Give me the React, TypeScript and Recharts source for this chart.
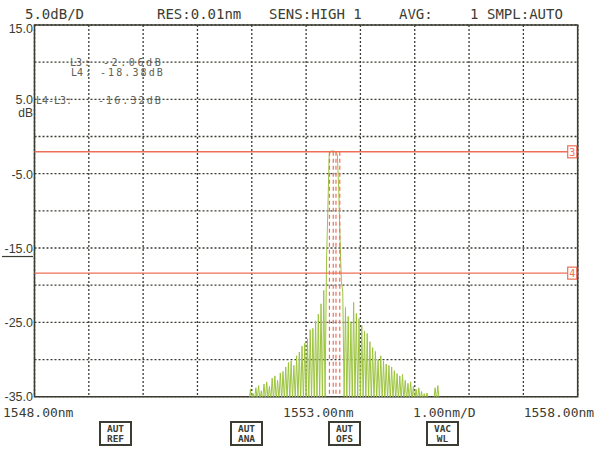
import React from 'react'
import {
  LineChart,
  Line,
  XAxis,
  YAxis,
  CartesianGrid,
  ReferenceLine,
  ReferenceArea,
} from 'recharts'

// OSA screen: 1548-1558 nm, 1 nm/div; +15 .. -35 dB, 5 dB/div
const X_TICKS = [1548, 1549, 1550, 1551, 1552, 1553, 1554, 1555, 1556, 1557, 1558]
const X_LABELS = [1548, 1553, 1558]
const Y_TICKS = [15, 10, 5, 0, -5, -10, -15, -20, -25, -30, -35]
const Y_LABELS = [15, 5, -5, -15, -25, -35]

const L3_DB = -2.06
const L4_DB = -18.38
const MARKERS_NM = [1553.43, 1553.5, 1553.55, 1553.62]

const START_NM = 1551.9
const STEP_NM = 0.025
const traceDb = [
  -36, -35.5, -36, -34.0, -35.5, -34.6, -35.5, -33.8, -35.5, -33.5,
  -35.5, -34.2, -35.5, -33.3, -35.5, -33.0, -35.5, -33.6, -35.5, -32.5,
  -35.5, -32.2, -35.5, -32.8, -35.5, -31.8, -35.5, -31.6, -35.5, -31.0,
  -35.5, -30.4, -35.5, -30.2, -35.5, -30.8, -35.5, -29.5, -35.5, -29.0,
  -35.5, -28.2, -35.5, -27.8, -35.5, -27.2, -35.5, -26.0, -35.5, -25.8,
  -35.5, -24.8, -35.5, -23.9, -35.5, -22.5, -35.5, -20.7, -35.0, -17.0,
  -10.0, -2.5, -2.0, -1.95, -1.95, -2.0, -2.1, -2.4, -7.0, -14.0,
  -19.5, -21.0, -35.0, -23.0, -35.5, -24.2, -35.5, -25.0, -35.5, -22.3,
  -35.5, -23.8, -35.5, -24.5, -35.5, -25.4, -35.5, -26.2, -35.5, -26.5,
  -35.5, -27.6, -35.5, -28.4, -35.5, -28.9, -35.5, -30.0, -35.5, -29.5,
  -35.5, -30.2, -35.5, -30.6, -35.5, -30.8, -35.5, -31.0, -35.5, -31.5,
  -35.5, -31.9, -35.5, -32.2, -35.5, -32.0, -35.5, -32.8, -35.5, -33.2,
  -35.5, -33.0, -35.5, -33.6, -35.5, -34.0, -35.5, -33.8, -35.5, -34.3,
  -35.5, -34.6, -35.5, -34.5, -35.5, -35.5, -35.5, -35.5, -35.5, -33.8,
  -35.5, -33.5, -35.5, -35.5, -36,
]

const HEADER = [
  { text: '5.0dB/D', x: 25 },
  { text: 'RES:0.01nm', x: 157 },
  { text: 'SENS:HIGH 1', x: 269 },
  { text: 'AVG:', x: 399 },
  { text: '1', x: 470 },
  { text: 'SMPL:AUTO', x: 487 },
]

const BUTTONS = [
  { top: 'AUT', bottom: 'REF', x: 100 },
  { top: 'AUT', bottom: 'ANA', x: 231 },
  { top: 'AUT', bottom: 'OFS', x: 329 },
  { top: 'VAC', bottom: 'WL', x: 427 },
]

const rows = traceDb.map((db, i) => ({
  nm: +(START_NM + i * STEP_NM).toFixed(3),
  db,
}))

const INK = '#3b3d33'
const RED = '#ee6f57'
const GREEN = '#9cc43f'
const MONO = '"DejaVu Sans Mono", monospace'
const SANS = '"Liberation Sans", sans-serif'

const fmtDb = (v: number) => `${v.toFixed(2)}dB`

// labels sit flush against the left frame line
const Y_LABEL_RIGHT = 33

function YTick(props: any) {
  const { y, payload } = props
  const v = payload.value
  if (!Y_LABELS.includes(v)) return null
  const dy = v === 15 ? 8 : v === -35 ? 4 : 5
  return (
    <g>
      <text x={Y_LABEL_RIGHT} y={y + dy} textAnchor="end" fontFamily={SANS} fontSize={12.5} fill={INK}>
        {v.toFixed(1)}
      </text>
      {v === 5 && (
        <text x={Y_LABEL_RIGHT} y={y + 18} textAnchor="end" fontFamily={SANS} fontSize={12} fill={INK}>
          dB
        </text>
      )}
      {v === -15 && (
        <line x1={2} x2={Y_LABEL_RIGHT} y1={y + 8.5} y2={y + 8.5} stroke={INK} strokeWidth={1.2} />
      )}
    </g>
  )
}

function XTick(props: any) {
  const { x, y, payload } = props
  const v = payload.value
  if (!X_LABELS.includes(v)) return null
  const shift = v === 1548 ? -31.5 : v === 1553 ? -23 : -54
  return (
    <text x={x + shift} y={y + 12} fontFamily={MONO} fontSize={13} fill={INK}>
      {v.toFixed(2)}nm
    </text>
  )
}

const tag = (n: string) => (props: any) => {
  const vb = props.viewBox || {}
  const right = (vb.x ?? 0) + (vb.width ?? 0)
  const cy = vb.y ?? 0
  return (
    <g>
      <rect x={right - 10} y={cy - 6} width={9} height={12} fill="#fff" stroke={RED} strokeWidth={1.2} />
      <text x={right - 5.5} y={cy + 4} textAnchor="middle" fontFamily={MONO} fontSize={10} fill={RED}>
        {n}
      </text>
    </g>
  )
}

export default function App() {
  return (
    <div style={{ position: 'absolute', left: 0, top: 0, width: 600, height: 450, background: '#fff' }}>
      <LineChart width={600} height={450} data={rows} margin={{ top: 25, right: 22.3, bottom: 0, left: 0 }}>
        <CartesianGrid stroke={INK} strokeDasharray="2 2" strokeWidth={1.3} />
        <XAxis
          type="number"
          dataKey="nm"
          domain={[1548, 1558]}
          ticks={X_TICKS}
          tick={<XTick />}
          tickLine={false}
          axisLine={false}
          height={53.3}
          allowDataOverflow
          interval={0}
        />
        <YAxis
          type="number"
          domain={[-35, 15]}
          ticks={Y_TICKS}
          tick={<YTick />}
          tickLine={false}
          axisLine={false}
          width={34.5}
          allowDataOverflow
          interval={0}
        />
        <ReferenceArea x1={1548} x2={1558} y1={-35} y2={15} fill="none" stroke={INK} strokeWidth={1.6} />
        <Line
          dataKey="db"
          stroke={GREEN}
          strokeWidth={1}
          dot={false}
          isAnimationActive={false}
        />
        <ReferenceLine y={L3_DB} stroke={RED} strokeWidth={1.4} label={tag('3')} />
        <ReferenceLine y={L4_DB} stroke={RED} strokeWidth={1.4} label={tag('4')} />
        {MARKERS_NM.map((m) => (
          <ReferenceLine
            key={m}
            segment={[{ x: m, y: L3_DB }, { x: m, y: -35 }]}
            stroke={RED}
            strokeDasharray="4 3"
            strokeWidth={1.2}
          />
        ))}
      </LineChart>
      <svg width={600} height={450} style={{ position: 'absolute', left: 0, top: 0, pointerEvents: 'none' }}>
        {HEADER.map((h) => (
          <text key={h.text} x={h.x} y={19} fontFamily={MONO} fontSize={14} fill={INK}>
            {h.text}
          </text>
        ))}
        <g fontFamily={MONO} fontSize={10} fill="#5e6056">
          <text x={70} y={66}>L3</text>
          <text x={84} y={66}>:</text>
          <text x={103} y={66} letterSpacing={2.6}>{fmtDb(L3_DB)}</text>
          <text x={71} y={76}>L4</text>
          <text x={85} y={76}>:</text>
          <text x={100} y={76} letterSpacing={2.1}>{fmtDb(L4_DB)}</text>
          <text x={36} y={104}>L4-L3</text>
          <text x={66} y={104}>:</text>
          <text x={98} y={104} letterSpacing={2.1}>{fmtDb(L4_DB - L3_DB)}</text>
        </g>
        <text x={413} y={417} fontFamily={MONO} fontSize={13} fill={INK}>
          1.00nm/D
        </text>
        {BUTTONS.map((b) => (
          <g key={b.x}>
            <rect x={b.x} y={422} width={31} height={23} fill="none" stroke={INK} strokeWidth={2} />
            <text x={b.x + 15.5} y={432} textAnchor="middle" fontFamily={MONO} fontSize={9.5} fontWeight="bold" fill={INK}>
              {b.top}
            </text>
            <text x={b.x + 15.5} y={442} textAnchor="middle" fontFamily={MONO} fontSize={9.5} fontWeight="bold" fill={INK}>
              {b.bottom}
            </text>
          </g>
        ))}
      </svg>
    </div>
  )
}
